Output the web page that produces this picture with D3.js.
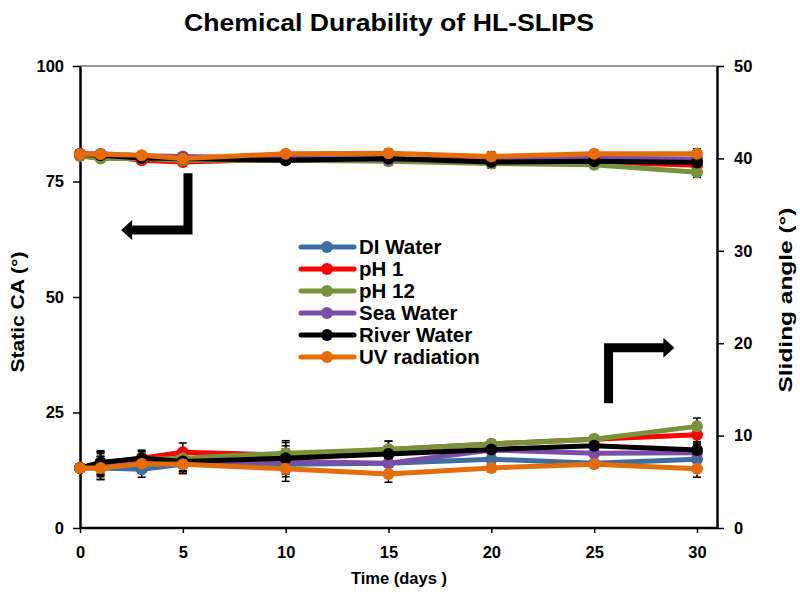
<!DOCTYPE html>
<html><head><meta charset="utf-8">
<script src="https://cdn.jsdelivr.net/npm/d3@7"></script>
<style>body{margin:0;background:#fff}svg{display:block;font-family:Arial,"Liberation Sans",sans-serif}</style>
</head><body>
<svg id="c" width="800" height="594"></svg>
<script>
const days = [0, 1, 3, 5, 10, 15, 20, 25, 30];
const seriesNames = ["DI Water", "pH 1", "pH 12", "Sea Water", "River Water", "UV radiation"];
const seriesColors = ["#3C6E9F", "#FF0000", "#77933C", "#7A4DA8", "#000000", "#E46C0A"];
// Static contact angle (left axis, deg)
const caDI    = [80.8, 80.7, 80.4, 80.2, 80.0, 79.8, 79.8, 80.0, 79.8];
const caPH1   = [81.0, 80.6, 79.6, 79.2, 79.8, 79.6, 79.3, 79.2, 78.5];
const caPH12  = [80.5, 80.0, 80.0, 79.6, 79.6, 79.4, 78.9, 78.6, 77.0];
const caSea   = [81.0, 81.0, 80.6, 80.4, 80.0, 79.7, 79.9, 80.0, 79.8];
const caRiver = [80.9, 80.7, 80.1, 80.0, 79.6, 80.0, 79.2, 79.4, 79.1];
const caUV    = [80.9, 80.9, 80.7, 80.0, 81.0, 81.1, 80.4, 81.0, 81.0];
const caErr   = [0.3, 0.3, 0.5, 0.4, 0.5, 0.9, 1.0, 0.8, 1.1];
// Sliding angle (right axis, deg)
const saDI    = [6.5, 6.5, 6.35, 6.9, 6.9, 7.0, 7.45, 7.0, 7.45];
const saPH1   = [6.5, 7.0, 7.55, 8.2, 7.9, 8.5, 9.1, 9.6, 10.1];
const saPH12  = [6.5, 7.0, 7.4, 7.55, 8.1, 8.5, 9.1, 9.6, 11.0];
const saSea   = [6.5, 6.8, 7.1, 7.1, 7.2, 7.0, 8.45, 8.1, 8.15];
const saRiver = [6.5, 7.1, 7.55, 7.2, 7.55, 8.0, 8.5, 8.9, 8.45];
const saUV    = [6.5, 6.5, 6.95, 6.9, 6.4, 5.85, 6.5, 6.9, 6.4];
const saErr   = [0.3, 1.25, 0.85, 1.0, 1.35, 0.9, 0.4, 0.4, 0.9];
const leftTicks = [0, 25, 50, 75, 100];
const rightTicks = [0, 10, 20, 30, 40, 50];
const xTicks = [0, 5, 10, 15, 20, 25, 30];
// annotation arrows: [x (days), y (left-axis units)]
const arrowLeft = [[5.25, 76.8], [5.25, 64.5], [2.0, 64.5]];
const arrowRight = [[25.7, 27.0], [25.7, 39.0], [28.9, 39.0]];

const caSeries = [caDI, caPH1, caPH12, caSea, caRiver, caUV];
const saSeries = [saDI, saPH1, saPH12, saSea, saRiver, saUV];

const svg = d3.select("#c");
const L = 80, R = 717, T = 66, B = 528;
const x = d3.scaleLinear().domain([0, 30]).range([L, 697]);
const yL = d3.scaleLinear().domain([0, 100]).range([B, T]);
const yR = d3.scaleLinear().domain([0, 50]).range([B, T]);

// title
svg.append("text").attr("x", 389).attr("y", 31).attr("text-anchor", "middle")
  .attr("font-size", 23).attr("font-weight", "bold")
  .attr("textLength", 410).attr("lengthAdjust", "spacingAndGlyphs")
  .text("Chemical Durability of HL-SLIPS");

// top border
svg.append("line").attr("x1", L).attr("x2", R).attr("y1", T).attr("y2", T)
  .attr("stroke", "#333").attr("stroke-width", 1);

function styleAxis(g) {
  g.selectAll("path").attr("stroke", "#000").attr("stroke-width", 2.5);
  g.selectAll("line").attr("stroke", "#000").attr("stroke-width", 1.5);
  g.selectAll("text").attr("font-size", 16.5).attr("font-weight", "bold")
    .attr("font-family", "Arial, 'Liberation Sans', sans-serif").attr("fill", "#000");
}
const gx = svg.append("g").attr("transform", `translate(0,${B})`)
  .call(d3.axisBottom(x).tickValues(xTicks).tickSize(5).tickSizeOuter(0).tickPadding(13));
gx.select(".domain").attr("d", `M${L},0H${R}`);
styleAxis(gx);
const gl = svg.append("g").attr("transform", `translate(${L},0)`)
  .call(d3.axisLeft(yL).tickValues(leftTicks).tickSize(7).tickSizeOuter(0).tickPadding(9));
styleAxis(gl);
const gr = svg.append("g").attr("transform", `translate(${R},0)`)
  .call(d3.axisRight(yR).tickValues(rightTicks).tickSize(7).tickSizeOuter(0).tickPadding(10));
styleAxis(gr);

// axis titles
svg.append("text").attr("transform", `translate(24,312) rotate(-90)`)
  .attr("text-anchor", "middle").attr("font-size", 18).attr("font-weight", "bold")
  .attr("textLength", 121).attr("lengthAdjust", "spacingAndGlyphs").text("Static CA (°)");
svg.append("text").attr("transform", `translate(792,300) rotate(-90)`)
  .attr("text-anchor", "middle").attr("font-size", 18).attr("font-weight", "bold")
  .attr("textLength", 185).attr("lengthAdjust", "spacingAndGlyphs").text("Sliding angle  (°)");
svg.append("text").attr("x", 399).attr("y", 584).attr("text-anchor", "middle")
  .attr("font-size", 16.5).attr("font-weight", "bold").text("Time (days )");

// arrows
function drawArrow(pts) {
  const p = pts.map(d => [x(d[0]), yL(d[1])]);
  svg.append("path").attr("d", d3.line()(p.slice(0, 2).concat([[p[2][0] + (p[2][0] < p[1][0] ? 10 : -10), p[2][1]]])))
    .attr("fill", "none").attr("stroke", "#000").attr("stroke-width", 9).attr("stroke-linejoin", "miter");
  const dir = p[2][0] < p[1][0] ? -1 : 1;
  const bx = p[2][0] - dir * 11;
  svg.append("path").attr("d", `M${p[2][0]},${p[2][1]}L${bx},${p[2][1] - 10}L${bx},${p[2][1] + 10}Z`).attr("fill", "#000");
}
drawArrow(arrowLeft);
drawArrow(arrowRight);

const line = d3.line();
function drawGroup(valsList, errs, scale) {
  const eg = svg.append("g");
  valsList.forEach((vals, si) => {
    vals.forEach((v, i) => {
      const e = errs[i];
      const cx = x(days[i]);
      eg.append("line").attr("x1", cx).attr("x2", cx).attr("y1", scale(v - e)).attr("y2", scale(v + e))
        .attr("stroke", "#000").attr("stroke-width", 1.5);
      [v - e, v + e].forEach(w => eg.append("line").attr("x1", cx - 4).attr("x2", cx + 4)
        .attr("y1", scale(w)).attr("y2", scale(w)).attr("stroke", "#000").attr("stroke-width", 1.5));
    });
  });
  valsList.forEach((vals, si) => {
    const pts = vals.map((v, i) => [x(days[i]), scale(v)]);
    svg.append("path").attr("d", line(pts)).attr("fill", "none")
      .attr("stroke", seriesColors[si]).attr("stroke-width", 5).attr("stroke-linejoin", "round");
    svg.append("g").selectAll("circle").data(pts).join("circle")
      .attr("cx", d => d[0]).attr("cy", d => d[1]).attr("r", 6).attr("fill", seriesColors[si]);
  });
}
drawGroup(caSeries, caErr, yL);
drawGroup(saSeries, saErr, yR);

// legend
const lg = svg.append("g");
seriesNames.forEach((n, i) => {
  const cy = 247 + i * 22;
  lg.append("line").attr("x1", 301).attr("x2", 354).attr("y1", cy).attr("y2", cy)
    .attr("stroke", seriesColors[i]).attr("stroke-width", 5).attr("stroke-linecap", "round");
  lg.append("circle").attr("cx", 327).attr("cy", cy).attr("r", 6).attr("fill", seriesColors[i]);
  lg.append("text").attr("x", 359).attr("y", cy + 7).attr("font-size", 20.5).attr("font-weight", "bold").text(n);
});
</script>
</body></html>
